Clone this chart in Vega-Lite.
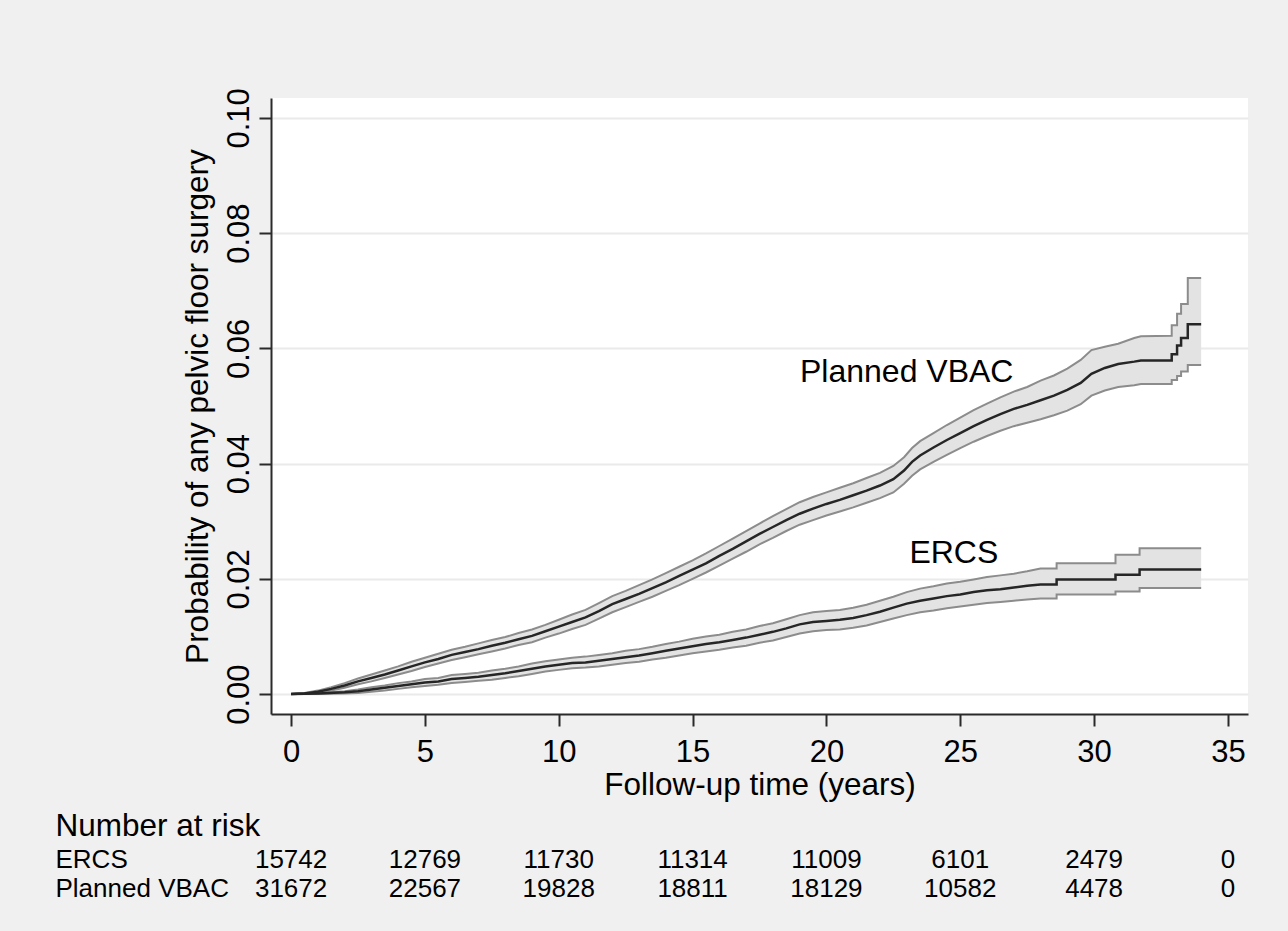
{
  "$schema": "https://vega.github.io/schema/vega-lite/v6.json",
  "background": "#f0f0f0",
  "padding": {"left": 55, "top": 87, "right": 40, "bottom": 29},
  "config": {
    "font": "Liberation Sans",
    "view": {"stroke": null},
    "axis": {"labelColor": "#000", "titleColor": "#000", "titleFontWeight": "normal", "domainColor": "#2a2a2a", "tickColor": "#2a2a2a"}
  },
  "datasets": {
    "km": [
      {"group": "Planned VBAC", "i": 1, "t": 0, "est": 0, "lo": 0, "hi": 0},
      {"group": "Planned VBAC", "i": 2, "t": 0.5, "est": 0.0001, "lo": 0.0, "hi": 0.0002},
      {"group": "Planned VBAC", "i": 3, "t": 1, "est": 0.0004, "lo": 0.0002, "hi": 0.0006},
      {"group": "Planned VBAC", "i": 4, "t": 1.5, "est": 0.0009, "lo": 0.0006, "hi": 0.0012},
      {"group": "Planned VBAC", "i": 5, "t": 2, "est": 0.0015, "lo": 0.0011, "hi": 0.0019},
      {"group": "Planned VBAC", "i": 6, "t": 2.5, "est": 0.0022, "lo": 0.0017, "hi": 0.0027},
      {"group": "Planned VBAC", "i": 7, "t": 3, "est": 0.0028, "lo": 0.0022, "hi": 0.0034},
      {"group": "Planned VBAC", "i": 8, "t": 3.5, "est": 0.0034, "lo": 0.0028, "hi": 0.0041},
      {"group": "Planned VBAC", "i": 9, "t": 4, "est": 0.0041, "lo": 0.0034, "hi": 0.0048},
      {"group": "Planned VBAC", "i": 10, "t": 4.5, "est": 0.0048, "lo": 0.0040, "hi": 0.0056},
      {"group": "Planned VBAC", "i": 11, "t": 5, "est": 0.0055, "lo": 0.0047, "hi": 0.0063},
      {"group": "Planned VBAC", "i": 12, "t": 5.5, "est": 0.0061, "lo": 0.0053, "hi": 0.0070},
      {"group": "Planned VBAC", "i": 13, "t": 6, "est": 0.0068, "lo": 0.0059, "hi": 0.0077},
      {"group": "Planned VBAC", "i": 14, "t": 6.5, "est": 0.0073, "lo": 0.0064, "hi": 0.0082},
      {"group": "Planned VBAC", "i": 15, "t": 7, "est": 0.0078, "lo": 0.0069, "hi": 0.0088},
      {"group": "Planned VBAC", "i": 16, "t": 7.5, "est": 0.0084, "lo": 0.0074, "hi": 0.0094},
      {"group": "Planned VBAC", "i": 17, "t": 8, "est": 0.0089, "lo": 0.0079, "hi": 0.0099},
      {"group": "Planned VBAC", "i": 18, "t": 8.5, "est": 0.0095, "lo": 0.0085, "hi": 0.0106},
      {"group": "Planned VBAC", "i": 19, "t": 9, "est": 0.0101, "lo": 0.0090, "hi": 0.0112},
      {"group": "Planned VBAC", "i": 20, "t": 9.5, "est": 0.0109, "lo": 0.0098, "hi": 0.0120},
      {"group": "Planned VBAC", "i": 21, "t": 10, "est": 0.0117, "lo": 0.0105, "hi": 0.0129},
      {"group": "Planned VBAC", "i": 22, "t": 10.5, "est": 0.0125, "lo": 0.0113, "hi": 0.0138},
      {"group": "Planned VBAC", "i": 23, "t": 11, "est": 0.0133, "lo": 0.0120, "hi": 0.0146},
      {"group": "Planned VBAC", "i": 24, "t": 11.5, "est": 0.0144, "lo": 0.0131, "hi": 0.0158},
      {"group": "Planned VBAC", "i": 25, "t": 12, "est": 0.0156, "lo": 0.0142, "hi": 0.0170},
      {"group": "Planned VBAC", "i": 26, "t": 12.5, "est": 0.0165, "lo": 0.0151, "hi": 0.0179},
      {"group": "Planned VBAC", "i": 27, "t": 13, "est": 0.0174, "lo": 0.0160, "hi": 0.0189},
      {"group": "Planned VBAC", "i": 28, "t": 13.5, "est": 0.0184, "lo": 0.0169, "hi": 0.0199},
      {"group": "Planned VBAC", "i": 29, "t": 14, "est": 0.0194, "lo": 0.0179, "hi": 0.0210},
      {"group": "Planned VBAC", "i": 30, "t": 14.5, "est": 0.0205, "lo": 0.0189, "hi": 0.0221},
      {"group": "Planned VBAC", "i": 31, "t": 15, "est": 0.0216, "lo": 0.0200, "hi": 0.0232},
      {"group": "Planned VBAC", "i": 32, "t": 15.5, "est": 0.0227, "lo": 0.0211, "hi": 0.0244},
      {"group": "Planned VBAC", "i": 33, "t": 16, "est": 0.0240, "lo": 0.0223, "hi": 0.0257},
      {"group": "Planned VBAC", "i": 34, "t": 16.5, "est": 0.0252, "lo": 0.0235, "hi": 0.0270},
      {"group": "Planned VBAC", "i": 35, "t": 17, "est": 0.0265, "lo": 0.0247, "hi": 0.0283},
      {"group": "Planned VBAC", "i": 36, "t": 17.5, "est": 0.0278, "lo": 0.0260, "hi": 0.0296},
      {"group": "Planned VBAC", "i": 37, "t": 18, "est": 0.0290, "lo": 0.0271, "hi": 0.0309},
      {"group": "Planned VBAC", "i": 38, "t": 18.5, "est": 0.0302, "lo": 0.0283, "hi": 0.0321},
      {"group": "Planned VBAC", "i": 39, "t": 19, "est": 0.0313, "lo": 0.0294, "hi": 0.0333},
      {"group": "Planned VBAC", "i": 40, "t": 19.5, "est": 0.0322, "lo": 0.0302, "hi": 0.0342},
      {"group": "Planned VBAC", "i": 41, "t": 20, "est": 0.0330, "lo": 0.0310, "hi": 0.0350},
      {"group": "Planned VBAC", "i": 42, "t": 20.5, "est": 0.0337, "lo": 0.0317, "hi": 0.0358},
      {"group": "Planned VBAC", "i": 43, "t": 21, "est": 0.0345, "lo": 0.0324, "hi": 0.0366},
      {"group": "Planned VBAC", "i": 44, "t": 21.5, "est": 0.0353, "lo": 0.0332, "hi": 0.0375},
      {"group": "Planned VBAC", "i": 45, "t": 22, "est": 0.0362, "lo": 0.0340, "hi": 0.0384},
      {"group": "Planned VBAC", "i": 46, "t": 22.5, "est": 0.0373, "lo": 0.0350, "hi": 0.0396},
      {"group": "Planned VBAC", "i": 47, "t": 22.9, "est": 0.0388, "lo": 0.0365, "hi": 0.0411},
      {"group": "Planned VBAC", "i": 48, "t": 23.2, "est": 0.0403, "lo": 0.0379, "hi": 0.0427},
      {"group": "Planned VBAC", "i": 49, "t": 23.5, "est": 0.0414, "lo": 0.0390, "hi": 0.0439},
      {"group": "Planned VBAC", "i": 50, "t": 24, "est": 0.0428, "lo": 0.0403, "hi": 0.0453},
      {"group": "Planned VBAC", "i": 51, "t": 24.5, "est": 0.0441, "lo": 0.0415, "hi": 0.0467},
      {"group": "Planned VBAC", "i": 52, "t": 25, "est": 0.0453, "lo": 0.0427, "hi": 0.0480},
      {"group": "Planned VBAC", "i": 53, "t": 25.5, "est": 0.0465, "lo": 0.0438, "hi": 0.0493},
      {"group": "Planned VBAC", "i": 54, "t": 26, "est": 0.0476, "lo": 0.0448, "hi": 0.0504},
      {"group": "Planned VBAC", "i": 55, "t": 26.5, "est": 0.0486, "lo": 0.0457, "hi": 0.0515},
      {"group": "Planned VBAC", "i": 56, "t": 27, "est": 0.0495, "lo": 0.0465, "hi": 0.0525},
      {"group": "Planned VBAC", "i": 57, "t": 27.5, "est": 0.0502, "lo": 0.0471, "hi": 0.0533},
      {"group": "Planned VBAC", "i": 58, "t": 28, "est": 0.0510, "lo": 0.0477, "hi": 0.0544},
      {"group": "Planned VBAC", "i": 59, "t": 28.5, "est": 0.0518, "lo": 0.0484, "hi": 0.0553},
      {"group": "Planned VBAC", "i": 60, "t": 29, "est": 0.0528, "lo": 0.0492, "hi": 0.0565},
      {"group": "Planned VBAC", "i": 61, "t": 29.5, "est": 0.0540, "lo": 0.0503, "hi": 0.0580},
      {"group": "Planned VBAC", "i": 62, "t": 29.9, "est": 0.0556, "lo": 0.0518, "hi": 0.0597},
      {"group": "Planned VBAC", "i": 63, "t": 30.4, "est": 0.0566, "lo": 0.0527, "hi": 0.0603},
      {"group": "Planned VBAC", "i": 64, "t": 30.9, "est": 0.0573, "lo": 0.0533, "hi": 0.0608},
      {"group": "Planned VBAC", "i": 65, "t": 31.5, "est": 0.0577, "lo": 0.0536, "hi": 0.0618},
      {"group": "Planned VBAC", "i": 66, "t": 31.75, "est": 0.0579, "lo": 0.0538, "hi": 0.0621},
      {"group": "Planned VBAC", "i": 67, "t": 32.9, "est": 0.0579, "lo": 0.0538, "hi": 0.0622},
      {"group": "Planned VBAC", "i": 68, "t": 32.9, "est": 0.0590, "lo": 0.0545, "hi": 0.0640},
      {"group": "Planned VBAC", "i": 69, "t": 33.1, "est": 0.0590, "lo": 0.0545, "hi": 0.0640},
      {"group": "Planned VBAC", "i": 70, "t": 33.1, "est": 0.0605, "lo": 0.0552, "hi": 0.0660},
      {"group": "Planned VBAC", "i": 71, "t": 33.25, "est": 0.0605, "lo": 0.0552, "hi": 0.0660},
      {"group": "Planned VBAC", "i": 72, "t": 33.25, "est": 0.0618, "lo": 0.0560, "hi": 0.0677},
      {"group": "Planned VBAC", "i": 73, "t": 33.5, "est": 0.0618, "lo": 0.0560, "hi": 0.0677},
      {"group": "Planned VBAC", "i": 74, "t": 33.5, "est": 0.0642, "lo": 0.0571, "hi": 0.0722},
      {"group": "Planned VBAC", "i": 75, "t": 34.0, "est": 0.0642, "lo": 0.0571, "hi": 0.0722},
      {"group": "ERCS", "i": 1, "t": 0, "est": 0, "lo": 0, "hi": 0},
      {"group": "ERCS", "i": 2, "t": 1, "est": 0.0001, "lo": 0.0000, "hi": 0.0002},
      {"group": "ERCS", "i": 3, "t": 2, "est": 0.0003, "lo": 0.0001, "hi": 0.0005},
      {"group": "ERCS", "i": 4, "t": 2.5, "est": 0.0005, "lo": 0.0002, "hi": 0.0008},
      {"group": "ERCS", "i": 5, "t": 3, "est": 0.0008, "lo": 0.0004, "hi": 0.0012},
      {"group": "ERCS", "i": 6, "t": 3.5, "est": 0.0011, "lo": 0.0006, "hi": 0.0015},
      {"group": "ERCS", "i": 7, "t": 4, "est": 0.0014, "lo": 0.0009, "hi": 0.0019},
      {"group": "ERCS", "i": 8, "t": 4.5, "est": 0.0017, "lo": 0.0012, "hi": 0.0022},
      {"group": "ERCS", "i": 9, "t": 5, "est": 0.0020, "lo": 0.0014, "hi": 0.0026},
      {"group": "ERCS", "i": 10, "t": 5.5, "est": 0.0022, "lo": 0.0016, "hi": 0.0028},
      {"group": "ERCS", "i": 11, "t": 6, "est": 0.0026, "lo": 0.0019, "hi": 0.0033},
      {"group": "ERCS", "i": 12, "t": 6.5, "est": 0.0028, "lo": 0.0021, "hi": 0.0035},
      {"group": "ERCS", "i": 13, "t": 7, "est": 0.0030, "lo": 0.0023, "hi": 0.0037},
      {"group": "ERCS", "i": 14, "t": 7.5, "est": 0.0033, "lo": 0.0025, "hi": 0.0041},
      {"group": "ERCS", "i": 15, "t": 8, "est": 0.0036, "lo": 0.0028, "hi": 0.0044},
      {"group": "ERCS", "i": 16, "t": 8.5, "est": 0.0040, "lo": 0.0031, "hi": 0.0048},
      {"group": "ERCS", "i": 17, "t": 9, "est": 0.0044, "lo": 0.0035, "hi": 0.0053},
      {"group": "ERCS", "i": 18, "t": 9.5, "est": 0.0048, "lo": 0.0039, "hi": 0.0057},
      {"group": "ERCS", "i": 19, "t": 10, "est": 0.0051, "lo": 0.0042, "hi": 0.0060},
      {"group": "ERCS", "i": 20, "t": 10.5, "est": 0.0054, "lo": 0.0045, "hi": 0.0063},
      {"group": "ERCS", "i": 21, "t": 11, "est": 0.0055, "lo": 0.0046, "hi": 0.0065},
      {"group": "ERCS", "i": 22, "t": 11.5, "est": 0.0058, "lo": 0.0048, "hi": 0.0068},
      {"group": "ERCS", "i": 23, "t": 12, "est": 0.0061, "lo": 0.0051, "hi": 0.0071},
      {"group": "ERCS", "i": 24, "t": 12.5, "est": 0.0064, "lo": 0.0054, "hi": 0.0075},
      {"group": "ERCS", "i": 25, "t": 13, "est": 0.0067, "lo": 0.0056, "hi": 0.0078},
      {"group": "ERCS", "i": 26, "t": 13.5, "est": 0.0071, "lo": 0.0060, "hi": 0.0082},
      {"group": "ERCS", "i": 27, "t": 14, "est": 0.0075, "lo": 0.0063, "hi": 0.0087},
      {"group": "ERCS", "i": 28, "t": 14.5, "est": 0.0079, "lo": 0.0067, "hi": 0.0091},
      {"group": "ERCS", "i": 29, "t": 15, "est": 0.0083, "lo": 0.0071, "hi": 0.0096},
      {"group": "ERCS", "i": 30, "t": 15.5, "est": 0.0087, "lo": 0.0074, "hi": 0.0100},
      {"group": "ERCS", "i": 31, "t": 16, "est": 0.0090, "lo": 0.0077, "hi": 0.0103},
      {"group": "ERCS", "i": 32, "t": 16.5, "est": 0.0094, "lo": 0.0081, "hi": 0.0108},
      {"group": "ERCS", "i": 33, "t": 17, "est": 0.0098, "lo": 0.0084, "hi": 0.0112},
      {"group": "ERCS", "i": 34, "t": 17.5, "est": 0.0103, "lo": 0.0089, "hi": 0.0118},
      {"group": "ERCS", "i": 35, "t": 18, "est": 0.0108, "lo": 0.0093, "hi": 0.0123},
      {"group": "ERCS", "i": 36, "t": 18.5, "est": 0.0114, "lo": 0.0099, "hi": 0.0130},
      {"group": "ERCS", "i": 37, "t": 19, "est": 0.0121, "lo": 0.0105, "hi": 0.0137},
      {"group": "ERCS", "i": 38, "t": 19.5, "est": 0.0125, "lo": 0.0109, "hi": 0.0142},
      {"group": "ERCS", "i": 39, "t": 20, "est": 0.0127, "lo": 0.0111, "hi": 0.0144},
      {"group": "ERCS", "i": 40, "t": 20.5, "est": 0.0129, "lo": 0.0112, "hi": 0.0146},
      {"group": "ERCS", "i": 41, "t": 21, "est": 0.0132, "lo": 0.0115, "hi": 0.0150},
      {"group": "ERCS", "i": 42, "t": 21.5, "est": 0.0137, "lo": 0.0119, "hi": 0.0155},
      {"group": "ERCS", "i": 43, "t": 22, "est": 0.0143, "lo": 0.0125, "hi": 0.0162},
      {"group": "ERCS", "i": 44, "t": 22.5, "est": 0.0150, "lo": 0.0131, "hi": 0.0169},
      {"group": "ERCS", "i": 45, "t": 23, "est": 0.0157, "lo": 0.0137, "hi": 0.0177},
      {"group": "ERCS", "i": 46, "t": 23.5, "est": 0.0162, "lo": 0.0142, "hi": 0.0183},
      {"group": "ERCS", "i": 47, "t": 24, "est": 0.0166, "lo": 0.0145, "hi": 0.0187},
      {"group": "ERCS", "i": 48, "t": 24.5, "est": 0.0170, "lo": 0.0149, "hi": 0.0192},
      {"group": "ERCS", "i": 49, "t": 25, "est": 0.0173, "lo": 0.0152, "hi": 0.0195},
      {"group": "ERCS", "i": 50, "t": 25.5, "est": 0.0177, "lo": 0.0155, "hi": 0.0199},
      {"group": "ERCS", "i": 51, "t": 26, "est": 0.0180, "lo": 0.0158, "hi": 0.0203},
      {"group": "ERCS", "i": 52, "t": 26.5, "est": 0.0182, "lo": 0.0160, "hi": 0.0206},
      {"group": "ERCS", "i": 53, "t": 27, "est": 0.0185, "lo": 0.0162, "hi": 0.0209},
      {"group": "ERCS", "i": 54, "t": 27.5, "est": 0.0188, "lo": 0.0164, "hi": 0.0213},
      {"group": "ERCS", "i": 55, "t": 28, "est": 0.0190, "lo": 0.0166, "hi": 0.0218},
      {"group": "ERCS", "i": 56, "t": 28.6, "est": 0.0190, "lo": 0.0166, "hi": 0.0218},
      {"group": "ERCS", "i": 57, "t": 28.6, "est": 0.0199, "lo": 0.0173, "hi": 0.0227},
      {"group": "ERCS", "i": 58, "t": 30.8, "est": 0.0199, "lo": 0.0173, "hi": 0.0227},
      {"group": "ERCS", "i": 59, "t": 30.8, "est": 0.0207, "lo": 0.0178, "hi": 0.0242},
      {"group": "ERCS", "i": 60, "t": 31.7, "est": 0.0207, "lo": 0.0178, "hi": 0.0242},
      {"group": "ERCS", "i": 61, "t": 31.7, "est": 0.0216, "lo": 0.0184, "hi": 0.0253},
      {"group": "ERCS", "i": 62, "t": 34.0, "est": 0.0216, "lo": 0.0184, "hi": 0.0253}
    ],
    "labels": [
      {"t": 23.0, "p": 0.0559, "label": "Planned VBAC"},
      {"t": 24.76, "p": 0.0244, "label": "ERCS"}
    ],
    "risk": [
      {"group": "ERCS", "t": 0, "n": 15742},
      {"group": "ERCS", "t": 5, "n": 12769},
      {"group": "ERCS", "t": 10, "n": 11730},
      {"group": "ERCS", "t": 15, "n": 11314},
      {"group": "ERCS", "t": 20, "n": 11009},
      {"group": "ERCS", "t": 25, "n": 6101},
      {"group": "ERCS", "t": 30, "n": 2479},
      {"group": "ERCS", "t": 35, "n": 0},
      {"group": "Planned VBAC", "t": 0, "n": 31672},
      {"group": "Planned VBAC", "t": 5, "n": 22567},
      {"group": "Planned VBAC", "t": 10, "n": 19828},
      {"group": "Planned VBAC", "t": 15, "n": 18811},
      {"group": "Planned VBAC", "t": 20, "n": 18129},
      {"group": "Planned VBAC", "t": 25, "n": 10582},
      {"group": "Planned VBAC", "t": 30, "n": 4478},
      {"group": "Planned VBAC", "t": 35, "n": 0}
    ]
  },
  "bounds": "flush",
  "spacing": 131,
  "vconcat": [
    {
      "width": 977,
      "height": 616,
      "view": {"fill": "white", "stroke": null},
      "encoding": {
        "x": {
          "field": "t", "type": "quantitative",
          "scale": {"domain": [-0.75, 35.75], "nice": false, "zero": false},
          "axis": {
            "values": [0, 5, 10, 15, 20, 25, 30, 35],
            "title": "Follow-up time (years)",
            "grid": false, "tickSize": 12, "tickWidth": 2, "domainWidth": 2,
            "labelFontSize": 31, "labelPadding": 11,
            "titleFontSize": 31.5, "titlePadding": 2
          }
        }
      },
      "layer": [
        {
          "data": {"name": "km"},
          "mark": {"type": "area", "interpolate": "linear", "color": "#e3e3e3", "opacity": 1},
          "encoding": {
            "y": {
              "field": "lo", "type": "quantitative",
              "scale": {"domain": [-0.00346, 0.10346], "nice": false, "zero": false},
              "axis": {
                "values": [0, 0.02, 0.04, 0.06, 0.08, 0.1],
                "format": ".2f",
                "title": "Probability of any pelvic floor surgery",
                "grid": true, "gridColor": "#eaeaea", "gridWidth": 2,
                "tickSize": 12, "tickWidth": 2, "domainWidth": 2,
                "labelFontSize": 31, "labelAngle": -90, "labelAlign": "center", "labelBaseline": "alphabetic", "labelPadding": 11,
                "titleFontSize": 31.5, "titlePadding": 9
              }
            },
            "y2": {"field": "hi"},
            "detail": {"field": "group"}
          }
        },
        {
          "data": {"name": "km"},
          "mark": {"type": "line", "interpolate": "linear", "color": "#8c8c8c", "strokeWidth": 2},
          "encoding": {
            "y": {"field": "lo", "type": "quantitative"},
            "detail": {"field": "group"},
            "order": {"field": "i", "type": "quantitative"}
          }
        },
        {
          "data": {"name": "km"},
          "mark": {"type": "line", "interpolate": "linear", "color": "#8c8c8c", "strokeWidth": 2},
          "encoding": {
            "y": {"field": "hi", "type": "quantitative"},
            "detail": {"field": "group"},
            "order": {"field": "i", "type": "quantitative"}
          }
        },
        {
          "data": {"name": "km"},
          "mark": {"type": "line", "interpolate": "linear", "color": "#262626", "strokeWidth": 2.5},
          "encoding": {
            "y": {"field": "est", "type": "quantitative"},
            "detail": {"field": "group"},
            "order": {"field": "i", "type": "quantitative"}
          }
        },
        {
          "data": {"name": "labels"},
          "mark": {"type": "text", "fontSize": 32, "color": "#000", "align": "center", "baseline": "middle"},
          "encoding": {
            "y": {"field": "p", "type": "quantitative"},
            "text": {"field": "label", "type": "nominal"}
          }
        }
      ]
    },
    {
      "width": 977,
      "height": 58,
      "data": {"name": "risk"},
      "mark": {"type": "text", "fontSize": 26, "color": "#000", "align": "center", "baseline": "middle"},
      "encoding": {
        "x": {
          "field": "t", "type": "quantitative",
          "scale": {"domain": [-0.75, 35.75], "nice": false, "zero": false},
          "axis": null
        },
        "y": {
          "field": "group", "type": "nominal",
          "sort": ["ERCS", "Planned VBAC"],
          "scale": {"type": "point", "padding": 0.5},
          "axis": {
            "title": "Number at risk",
            "titleAngle": 0, "titleAlign": "left", "titleBaseline": "middle",
            "titleX": -216, "titleY": -18.5, "titleFontSize": 31.5,
            "labelAlign": "left", "labelBaseline": "middle", "labelPadding": 216, "labelFontSize": 26,
            "ticks": false, "tickSize": 0, "domain": false, "grid": false
          }
        },
        "text": {"field": "n", "type": "nominal"}
      }
    }
  ]
}
